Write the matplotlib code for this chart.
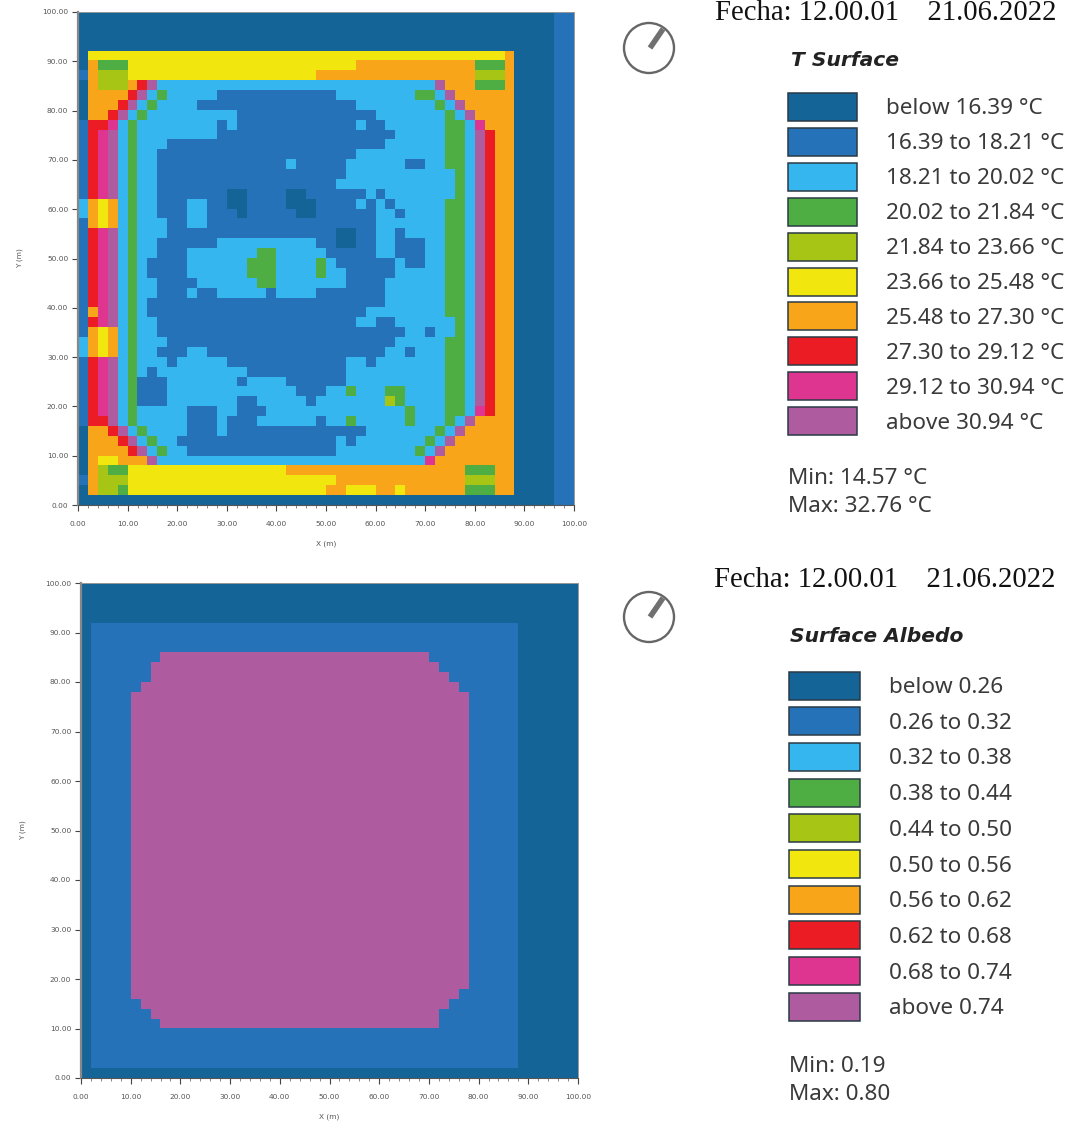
import matplotlib
matplotlib.use('Agg')
import matplotlib.pyplot as plt
from matplotlib.colors import ListedColormap
from matplotlib.patches import Circle, Rectangle
import numpy as np

W, H = 1066, 1128

# palette shared by both legends
class_colors = ['#156497', '#2572b8', '#35b6ee', '#4eae44', '#a6c515',
                '#f2e60f', '#f9a51a', '#ec1c24', '#de3690', '#ae5c9f']

t_labels = ['below 16.39 °C', '16.39 to 18.21 °C', '18.21 to 20.02 °C', '20.02 to 21.84 °C',
            '21.84 to 23.66 °C', '23.66 to 25.48 °C', '25.48 to 27.30 °C', '27.30 to 29.12 °C',
            '29.12 to 30.94 °C', 'above 30.94 °C']
albedo_labels = ['below 0.26', '0.26 to 0.32', '0.32 to 0.38', '0.38 to 0.44', '0.44 to 0.50',
                 '0.50 to 0.56', '0.56 to 0.62', '0.62 to 0.68', '0.68 to 0.74', 'above 0.74']

# class per cell, top row first, "v*n" = n cells of class v
# the last 6 cells (x >= 88 m) of every T row are the same: 0*4 1*2
t_rows = [
    '0*44', '0*44', '0*44', '0*44',
    '0 5*42 6',
    '0 6 3*3 5*23 6*12 3*3 6',
    '1 6 4*3 5*19 6*16 4*3 6',
    '0 6 4*3 6 7 9 2*28 9 6*3 3*3 6',
    '0 6*4 7 9 2 3 2*5 1*12 2*8 3*2 2 9 6*6',
    '0 6*3 7 9 2 3 2*4 1*16 2*8 3 2 9 6*5',
    '0 6*2 7 9 2 3 2*9 1*14 2*7 3 2 9 6*4',
    '1 7*2 8 2 3 2*8 1 2 1*12 2 1*2 2*6 3*2 2 8 6*3',
    '1 7 8 9 2 3 2*8 1*18 2*5 3*2 2 9 7 6*2',
    '1 7 8 9 2 3 2*3 1*22 2*6 3*2 2 9 7 6*2',
    '1 7 8 9 2 3 2*2 1*20 2*9 3*2 2 9 7 6*2',
    '1 7 8 9 2 3 2*2 1*13 2 1*5 2*6 1*2 2*2 3*2 2 9 7 6*2',
    '1 7 8 9 2 3 2*2 1*19 2*11 3 2 9 7 6*2',
    '1 7 8 9 2 3 2*2 1*18 2*12 3 2 9 7 6*2',
    '1 7 8 9 2 3 2*2 1*7 0*2 1*4 0*2 1*6 2 1 2*7 3 2 9 7 6*2',
    '2 6 5 6 2 3 2*2 1*3 2*2 1*2 0*2 1*4 0*3 1*4 2 1 2 1 2*5 3*2 2 9 7 6*2',
    '2 6 5 6 2 3 2*2 1*3 2*2 1*3 0 1*5 0*2 1*6 2*2 1 2*4 3*2 2 9 7 6*2',
    '1 6 5 6 2 3 2*3 1*2 2*2 1*17 2*7 3*2 2 9 7 6*2',
    '1 7 8 9 2 3 2*3 1*17 0*2 1*2 2*2 1 2*4 3*2 2 9 7 6*2',
    '1 7 8 9 2 3 2*2 1*6 2*10 1*2 0*2 1*2 2*2 1*3 2*2 3*2 2 9 7 6*2',
    '1 7 8 9 2 3 2*2 1*3 2*7 3*2 2*5 1*5 2*2 1*3 2*2 3*2 2 9 7 6*2',
    '1 7 8 9 2 3 2 1*4 2*6 3*3 2*4 3 2 1*6 2 1*2 2*2 3*2 2 9 7 6*2',
    '1 7 8 9 2 3 2 1*4 2*6 3*3 2*4 3 2*2 1*5 2*5 3*2 2 9 7 6*2',
    '1 7 8 9 2 3 2*2 1*4 2*6 3*2 2*7 1*4 2*6 3*2 2 9 7 6*2',
    '1 7 8 9 2 3 2*2 1*3 2 1*2 2*5 1 2*4 1*7 2*6 3*2 2 9 7 6*2',
    '1 7 8 9 2 3 2 1*24 2*6 3*2 2 9 7 6*2',
    '1 6 8 9 2 3 2 1*22 2*8 3*2 2 9 7 6*2',
    '1 7 8 9 2 3 2*2 1*20 2*2 1*2 2*6 3 2 9 7 6*2',
    '1 6 5 6 2 3 2*2 1*25 2*2 1 2*2 3 2 9 7 6*2',
    '2 6 5 6 2 3 2*3 1*23 2*5 3*2 2 9 7 6*2',
    '2 6 5 6 2 3 2*2 1*3 2*2 1*18 2*2 1 2*3 3*2 2 9 7 6*2',
    '1 7 8 9 2 3 2*3 1 2*5 1*12 2*2 1 2*7 3*2 2 9 7 6*2',
    '1 7 8 9 2 3 2 1 2*9 1*10 2*10 3*2 2 9 7 6*2',
    '1 7 8 9 2 3 1*3 2*7 1 2*4 1*6 2*10 3*2 2 9 7 6*2',
    '1 7 8 9 2 3 1*3 2*13 1*3 2*2 3 2*3 3*2 2*4 3*2 2 9 7 6*2',
    '1 7 8 9 2 3 1*3 2*7 1*2 2*5 1 2*7 4 3 2*4 3*2 2 9 7 6*2',
    '1 7 8 9 2 3 2*5 1*3 2*2 1*3 2*14 3 2*3 3*2 2 8 7 6*2',
    '1 7*2 9 2 3 2*5 1*3 2 1*3 2*6 1 2*2 3 2*5 3 2*3 3 2 9 6*4',
    '0 6*2 7 9 2 3 2*4 1*3 2 1*14 2*7 3 2 9 6*5',
    '0 6*3 7 9 2 3 2*2 1*16 2 1 2*7 3 2 9 6*6',
    '0 6*4 7 9 2 3 2*2 1*15 2*8 3 2 9 6*7',
    '0 6 5*2 6*3 9 2*27 8 6*8',
    '0 6 4 3*2 5*16 6*18 3*3 6*2',
    '1 6 4*3 5*21 6*13 4*3 6*2',
    '0 6 4*2 3 5*20 6*2 5*3 6*2 5 6*6 3*3 6*2',
    '0*44',
]
t_tail = '0*4 1*2'

albedo_rows = [
    '0*50', '0*50', '0*50', '0*50',
    '0 1*43 0*6', '0 1*43 0*6', '0 1*43 0*6',
    '0 1*7 9*27 1*9 0*6',
    '0 1*6 9*29 1*8 0*6',
    '0 1*6 9*30 1*7 0*6',
    '0 1*5 9*32 1*6 0*6',
] + ['0 1*4 9*34 1*5 0*6'] * 30 + [
    '0 1*4 9*33 1*6 0*6',
    '0 1*5 9*31 1*7 0*6',
    '0 1*6 9*29 1*8 0*6',
    '0 1*7 9*28 1*8 0*6',
    '0 1*43 0*6', '0 1*43 0*6', '0 1*43 0*6', '0 1*43 0*6',
    '0*50',
]


def expand(row):
    cells = []
    for tok in row.split():
        v, _, n = tok.partition('*')
        cells += [int(v)] * int(n or 1)
    return cells


def px_axes(fig, x0, y0, x1, y1):
    return fig.add_axes([x0 / W, 1 - y1 / H, (x1 - x0) / W, (y1 - y0) / H])


cmap = ListedColormap(class_colors)
fig = plt.figure(figsize=(W / 100, H / 100), dpi=100)


def draw_map(rows, box):
    ax = px_axes(fig, *box)
    grid = np.array([expand(r) for r in rows])
    ax.imshow(grid, cmap=cmap, vmin=-0.5, vmax=9.5, extent=(0, 100, 0, 100), aspect='auto',
              interpolation='nearest')
    ax.set_xticks(np.arange(0, 101, 10))
    ax.set_yticks(np.arange(0, 101, 10))
    ax.set_xticks(np.arange(0, 101, 2), minor=True)
    ax.xaxis.set_major_formatter('{x:.2f}')
    ax.yaxis.set_major_formatter('{x:.2f}')
    ax.tick_params(which='major', length=4, width=0.8, color='#444444', labelsize=5.3,
                   labelcolor='#555555')
    ax.tick_params(axis='x', which='major', pad=7.5)
    ax.tick_params(axis='y', which='major', pad=3)
    ax.tick_params(which='minor', length=2, width=0.5, color='#555555')
    ax.set_xlabel('X (m)', fontsize=5.3, color='#555555', labelpad=10)
    ax.set_ylabel('Y (m)', fontsize=5.3, color='#555555', labelpad=14)
    for side in ['top', 'right']:
        ax.spines[side].set_color('#999999')
        ax.spines[side].set_linewidth(0.7)
    ax.spines['bottom'].set_color('#555555')
    ax.spines['left'].set_color('#888888')
    ax.spines['left'].set_linewidth(1.6)
    return ax


draw_map([r + ' ' + t_tail for r in t_rows], (78, 12, 574, 505))
draw_map(albedo_rows, (81, 583, 578, 1078))

# everything right of the maps is placed in pixels
over = fig.add_axes([0, 0, 1, 1])
over.set_xlim(0, W)
over.set_ylim(H, 0)
over.axis('off')


def draw_panel(fecha_xy, dial_xy, title, title_xy, labels, sw_x, sw_w, sw_y, step, txt_x, min_txt, max_txt, minmax_xy):
    over.text(*fecha_xy, 'Fecha: 12.00.01    21.06.2022', family='Liberation Serif', fontsize=20.6,
              color='#111111', va='center', ha='left')
    cx, cy = dial_xy
    over.add_patch(Circle((cx, cy), 25, fill=False, ec='#666666', lw=1.7))
    over.plot([cx + 1, cx + 14], [cy, cy - 19], color='#707070', lw=4, solid_capstyle='butt')
    over.text(*title_xy, title, family='DejaVu Sans', fontsize=14.6, style='italic', weight='bold',
              color='#222222', va='center', ha='left')
    for i, lab in enumerate(labels):
        y = sw_y + i * step
        over.add_patch(Rectangle((sw_x, y), sw_w, 28, fc=class_colors[i], ec='#2b3a45', lw=1.1))
        over.text(txt_x, y + 16, lab, family='Noto Sans', fontsize=16.2, color='#3a3a3a',
                  va='center', ha='left')
    mx, my = minmax_xy
    over.text(mx, my, min_txt, family='Noto Sans', fontsize=16.2, color='#3a3a3a', va='center')
    over.text(mx, my + 27, max_txt, family='Noto Sans', fontsize=16.2, color='#3a3a3a', va='center')


draw_panel((715, 13), (649, 48), 'T Surface', (791, 60), t_labels, 788, 69, 93, 34.9, 886,
           'Min: 14.57 °C', 'Max: 32.76 °C', (788, 479))
draw_panel((714, 580), (649, 617), 'Surface Albedo', (790, 637), albedo_labels, 789, 71, 671.5, 35.7, 889,
           'Min: 0.19', 'Max: 0.80', (789, 1067))

plt.savefig('out.png', dpi=100)
